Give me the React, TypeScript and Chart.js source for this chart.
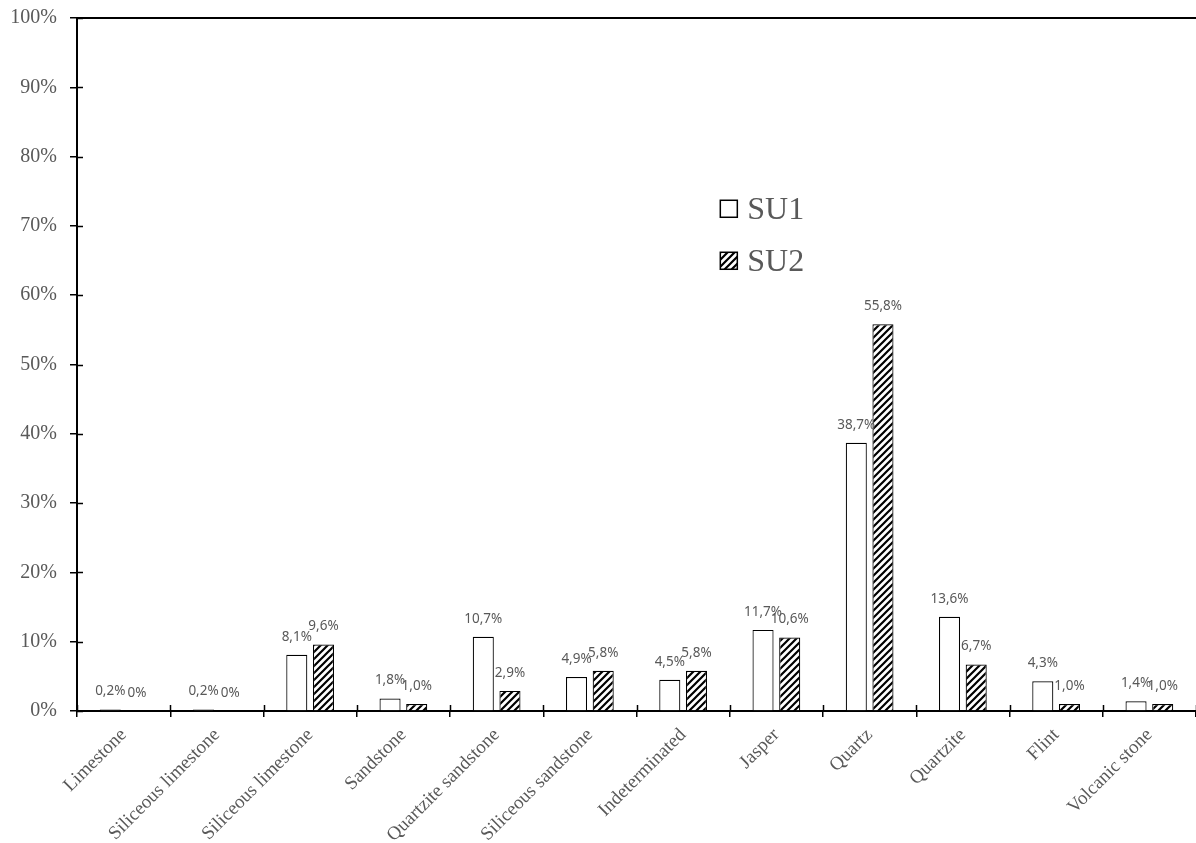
import React, { useEffect, useRef } from "react";
import { Chart, registerables } from "chart.js";

Chart.register(...registerables);

const categories: string[] = [
  "Limestone",
  "Siliceous limestone",
  "Siliceous limestone",
  "Sandstone",
  "Quartzite sandstone",
  "Siliceous sandstone",
  "Indeterminated",
  "Jasper",
  "Quartz",
  "Quartzite",
  "Flint",
  "Volcanic stone",
];
const su1: number[] = [0.2, 0.2, 8.1, 1.8, 10.7, 4.9, 4.5, 11.7, 38.7, 13.6, 4.3, 1.4];
const su2: number[] = [0, 0, 9.6, 1.0, 2.9, 5.8, 5.8, 10.6, 55.8, 6.7, 1.0, 1.0];
const seriesNames: string[] = ["SU1", "SU2"];
const yTicks: number[] = [0, 10, 20, 30, 40, 50, 60, 70, 80, 90, 100];

const GREY = "#595959";

function makeHatch(): CanvasPattern | string {
  const size = 7;
  const c = document.createElement("canvas");
  c.width = size;
  c.height = size;
  const g = c.getContext("2d");
  if (!g) return "#888";
  g.fillStyle = "#ffffff";
  g.fillRect(0, 0, size, size);
  g.strokeStyle = "#000000";
  g.lineWidth = 2.2;
  g.beginPath();
  g.moveTo(-1, size + 1);
  g.lineTo(size + 1, -1);
  g.moveTo(-1, 1);
  g.lineTo(1, -1);
  g.moveTo(size - 1, size + 1);
  g.lineTo(size + 1, size - 1);
  g.stroke();
  const p = g.createPattern(c, "repeat");
  return p || "#888";
}

function fmt(v: number): string {
  if (v === 0) return "0%";
  return v.toFixed(1).replace(".", ",") + "%";
}

const extrasPlugin = {
  id: "extras",
  afterDraw(chart: any) {
    const ctx = chart.ctx as CanvasRenderingContext2D;
    const area = chart.chartArea;
    const xs = chart.scales.x;
    const ys = chart.scales.y;
    ctx.save();
    // top border line
    ctx.strokeStyle = "#000";
    ctx.lineWidth = 2;
    ctx.beginPath();
    ctx.moveTo(area.left, area.top);
    ctx.lineTo(area.right, area.top);
    ctx.stroke();
    // inner tick parts (crossing ticks)
    ctx.lineWidth = 1.5;
    ctx.beginPath();
    for (const t of yTicks) {
      const y = Math.round(ys.getPixelForValue(t)) + 0.5;
      ctx.moveTo(area.left, y);
      ctx.lineTo(area.left + 6, y);
    }
    const n = categories.length;
    for (let i = 0; i <= n; i++) {
      const x = Math.round(xs.left + (xs.width * i) / n) + 0.5;
      ctx.moveTo(x, area.bottom);
      ctx.lineTo(x, area.bottom - 6);
    }
    ctx.stroke();

    // data labels
    ctx.font = "13.5px 'Noto Sans', sans-serif";
    ctx.fillStyle = GREY;
    ctx.textAlign = "center";
    ctx.textBaseline = "middle";
    chart.data.datasets.forEach((ds: any, di: number) => {
      const meta = chart.getDatasetMeta(di);
      meta.data.forEach((el: any, i: number) => {
        const v = ds.data[i] as number;
        ctx.fillText(fmt(v), el.x, el.y - 18);
      });
    });

    // legend
    const lx = area.left + (area.right - area.left) * 0.5749;
    const ly0 = area.top + (area.bottom - area.top) * 0.276;
    const gap = 52;
    chart.data.datasets.forEach((ds: any, di: number) => {
      const cy = ly0 + di * gap;
      ctx.fillStyle = ds.backgroundColor;
      ctx.fillRect(lx, cy - 9, 17, 17);
      ctx.strokeStyle = "#000";
      ctx.lineWidth = 1.5;
      ctx.strokeRect(lx, cy - 9, 17, 17);
      ctx.fillStyle = GREY;
      ctx.font = "32px 'Liberation Serif', serif";
      ctx.textAlign = "left";
      ctx.textBaseline = "middle";
      ctx.fillText(seriesNames[di], lx + 27, cy + 1);
    });
    ctx.restore();
  },
};

export default function App() {
  const ref = useRef<HTMLCanvasElement | null>(null);
  useEffect(() => {
    if (!ref.current) return;
    const hatch = makeHatch();
    const chart = new Chart(ref.current, {
      type: "bar",
      data: {
        labels: categories,
        datasets: [
          {
            label: seriesNames[0],
            data: su1,
            backgroundColor: "#ffffff",
            borderColor: "#000000",
            borderWidth: 1.2,
            categoryPercentage: 0.572,
            barPercentage: 0.79,
          },
          {
            label: seriesNames[1],
            data: su2,
            backgroundColor: hatch as any,
            borderColor: "#000000",
            borderWidth: 1.2,
            categoryPercentage: 0.572,
            barPercentage: 0.79,
          },
        ],
      },
      options: {
        animation: false,
        responsive: false,
        maintainAspectRatio: false,
        layout: { padding: { top: 18, right: 0, left: 0, bottom: 0 } },
        plugins: {
          legend: { display: false },
          tooltip: { enabled: false },
        },
        scales: {
          x: {
            grid: {
              display: true,
              drawOnChartArea: false,
              drawTicks: true,
              tickLength: 6,
              color: "#000",
              lineWidth: 1.5,
              offset: true,
            },
            border: { display: true, color: "#000", width: 2 },
            ticks: {
              color: GREY,
              font: { family: "'Liberation Serif', serif", size: 19 },
              minRotation: 45,
              maxRotation: 45,
              autoSkip: false,
              padding: 7,
            },
            afterFit(scale: any) {
              scale.height = 132;
              scale.paddingLeft = 0;
              scale.paddingRight = 0;
            },
          },
          y: {
            min: 0,
            max: 100,
            afterBuildTicks(scale: any) {
              scale.ticks = yTicks.map((v) => ({ value: v }));
            },
            grid: {
              display: true,
              drawOnChartArea: false,
              drawTicks: true,
              tickLength: 7,
              color: "#000",
              lineWidth: 1.5,
            },
            border: { display: true, color: "#000", width: 2 },
            ticks: {
              color: GREY,
              font: { family: "'Liberation Serif', serif", size: 20 },
              padding: 13,
              callback: (v: any) => v + "%",
            },
            afterFit(scale: any) {
              scale.width = 77;
              scale.paddingTop = 0;
              scale.paddingBottom = 0;
            },
          },
        },
      },
      plugins: [extrasPlugin],
    });
    return () => chart.destroy();
  }, []);
  return (
    <div style={{ position: "fixed", left: 0, top: 0, width: 1196, height: 843, background: "#fff" }}>
      <canvas ref={ref} width={1196} height={843} style={{ display: "block" }} />
    </div>
  );
}
